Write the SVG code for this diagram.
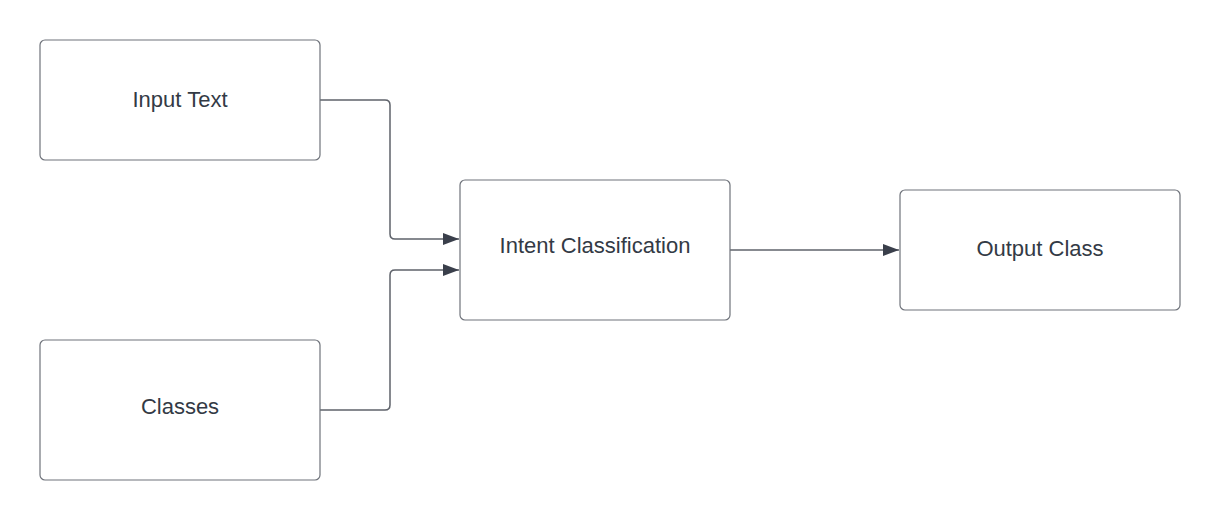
<svg xmlns="http://www.w3.org/2000/svg" width="1220" height="520" viewBox="0 0 1220 520">
<style>
.box{fill:#ffffff;stroke:#6f737b;stroke-width:1.2}
.lbl{font-family:"Liberation Sans",Arial,sans-serif;font-size:22px;fill:#333a45;text-anchor:middle;dominant-baseline:central}
.conn{fill:none;stroke:#5f636b;stroke-width:1.5}
</style>
<defs>
<marker id="arr" markerWidth="18" markerHeight="12" refX="16" refY="6" orient="auto" markerUnits="userSpaceOnUse">
<path d="M0,0 L16,6 L0,12 Z" fill="#3a3f4b"/>
</marker>
</defs>
<rect width="1220" height="520" fill="#ffffff"/>
<g id="connectors">
<path class="conn" d="M320,100 H385 Q390,100 390,105 V234 Q390,239 395,239 H459" marker-end="url(#arr)"/>
<path class="conn" d="M320,410 H385 Q390,410 390,405 V275 Q390,270 395,270 H459" marker-end="url(#arr)"/>
<path class="conn" d="M730,250 H899" marker-end="url(#arr)"/>
</g>
<g id="input-text">
<rect class="box" x="40" y="40" width="280" height="120" rx="5"/>
<text class="lbl" x="180" y="99">Input Text</text>
</g>
<g id="classes">
<rect class="box" x="40" y="340" width="280" height="140" rx="5"/>
<text class="lbl" x="180" y="406">Classes</text>
</g>
<g id="intent-classification">
<rect class="box" x="460" y="180" width="270" height="140" rx="5"/>
<text class="lbl" x="595" y="245">Intent Classification</text>
</g>
<g id="output-class">
<rect class="box" x="900" y="190" width="280" height="120" rx="5"/>
<text class="lbl" x="1040" y="248">Output Class</text>
</g>
</svg>
